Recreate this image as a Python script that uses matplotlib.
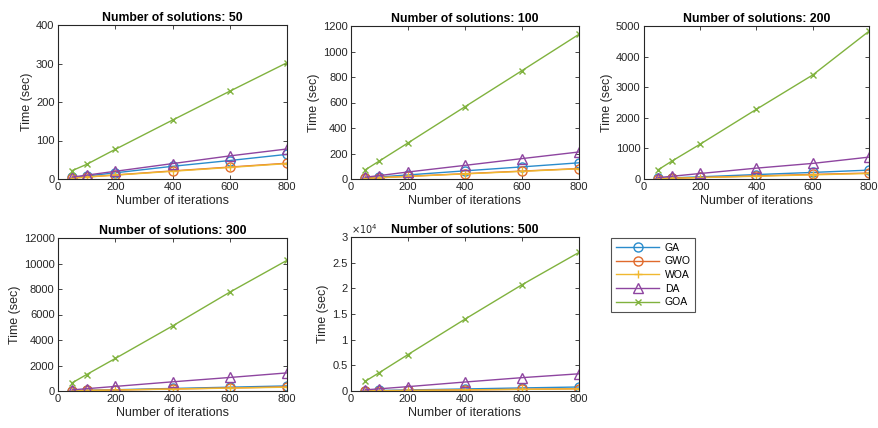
import matplotlib
matplotlib.use("Agg")
import matplotlib.pyplot as plt
import numpy as np

plt.rcParams['font.family'] = ['Liberation Sans', 'DejaVu Sans']

iterations = [50, 100, 200, 400, 600, 800]
algorithms = ["GA", "GWO", "WOA", "DA", "GOA"]

# Time (sec) per panel, per algorithm
times_50 = {
    "GA":  [4, 8, 16, 33, 48, 64],
    "GWO": [2.6, 5.2, 10.5, 21, 31, 41],
    "WOA": [2.5, 5, 10, 20, 30, 40],
    "DA":  [5, 10, 20, 40, 60, 78],
    "GOA": [22, 38, 77, 153, 228, 302],
}
times_100 = {
    "GA":  [8, 16, 32, 64, 95, 127],
    "GWO": [5, 10, 21, 42, 62, 82],
    "WOA": [5, 10, 20, 40, 60, 80],
    "DA":  [14, 27, 55, 107, 160, 212],
    "GOA": [72, 142, 283, 567, 850, 1135],
}
times_200 = {
    "GA":  [18, 36, 72, 145, 215, 290],
    "GWO": [12, 25, 50, 100, 150, 195],
    "WOA": [11, 22, 45, 90, 135, 180],
    "DA":  [45, 90, 180, 355, 510, 715],
    "GOA": [300, 590, 1140, 2280, 3400, 4830],
}
times_300 = {
    "GA":  [25, 50, 100, 200, 300, 400],
    "GWO": [20, 40, 80, 160, 240, 320],
    "WOA": [19, 38, 75, 150, 225, 300],
    "DA":  [90, 180, 360, 720, 1060, 1420],
    "GOA": [650, 1290, 2550, 5100, 7750, 10250],
}
times_500 = {
    "GA":  [50, 100, 200, 400, 600, 780],
    "GWO": [28, 55, 110, 220, 330, 440],
    "WOA": [27, 53, 105, 210, 315, 420],
    "DA":  [220, 430, 850, 1750, 2600, 3350],
    "GOA": [1900, 3600, 7100, 14000, 20700, 27000],
}

panels = [
    ("Number of solutions: 50", times_50, 400, [0, 100, 200, 300, 400]),
    ("Number of solutions: 100", times_100, 1200, [0, 200, 400, 600, 800, 1000, 1200]),
    ("Number of solutions: 200", times_200, 5000, [0, 1000, 2000, 3000, 4000, 5000]),
    ("Number of solutions: 300", times_300, 12000, [0, 2000, 4000, 6000, 8000, 10000, 12000]),
    ("Number of solutions: 500", times_500, 30000, [0, 5000, 10000, 15000, 20000, 25000, 30000]),
]

styles = {
    "GA":  dict(color="#2a8ccc", marker="o", ms=6.5),
    "GWO": dict(color="#e06a2c", marker="o", ms=6.5),
    "WOA": dict(color="#f0b830", marker="+", ms=6),
    "DA":  dict(color="#8e45a0", marker="^", ms=6.5),
    "GOA": dict(color="#80b23e", marker="x", ms=4.5),
}

W, H = 879, 428
fig = plt.figure(figsize=(W / 100, H / 100), dpi=100)

boxes = [
    (58, 25, 287, 179),
    (351, 26, 579, 179),
    (644, 26, 869, 179),
    (58, 238, 287, 391),
    (351, 237, 579, 391),
]

dark = "#262626"
handles = []
for i, ((title, data, ymax, yticks), (x0, y0, x1, y1)) in enumerate(zip(panels, boxes)):
    ax = fig.add_axes([x0 / W, 1 - y1 / H, (x1 - x0) / W, (y1 - y0) / H])
    for alg in algorithms:
        st = styles[alg]
        mfc = "none" if st["marker"] in ("o", "^") else st["color"]
        h, = ax.plot(iterations, data[alg], color=st["color"], marker=st["marker"],
                     markersize=st["ms"], markerfacecolor=mfc, markeredgewidth=1.0,
                     linewidth=1.0, label=alg)
        if i == 0:
            handles.append(h)
    ax.set_xlim(0, 800)
    ax.set_ylim(0, ymax)
    ax.set_xticks([0, 200, 400, 600, 800])
    ax.set_yticks(yticks)
    if ymax == 30000:
        ax.set_yticklabels(["0", "0.5", "1", "1.5", "2", "2.5", "3"])
        ax.text(0.0, 1.005, r"$\times10^4$", transform=ax.transAxes, fontsize=7,
                color=dark, ha="left", va="bottom")
    ax.tick_params(direction="in", top=True, right=True, labelsize=8,
                   colors=dark, length=3, width=0.6, pad=2.5)
    for sp in ax.spines.values():
        sp.set_color(dark)
        sp.set_linewidth(0.8)
    ax.set_title(title, fontsize=8.8, fontweight="bold", color="black", pad=3)
    ax.set_xlabel("Number of iterations", fontsize=9, color=dark, labelpad=2)
    ax.set_ylabel("Time (sec)", fontsize=9, color=dark, labelpad=2)

leg = fig.legend(handles=handles, labels=algorithms, loc="upper left",
                 bbox_to_anchor=(611 / W, 1 - 238 / H), fontsize=7.5,
                 frameon=True, fancybox=False, edgecolor=dark,
                 handlelength=4.2, borderpad=0.45, labelspacing=0.35,
                 handletextpad=0.5, borderaxespad=0.0)
leg.get_frame().set_linewidth(0.8)

fig.savefig("out.png", dpi=100)
